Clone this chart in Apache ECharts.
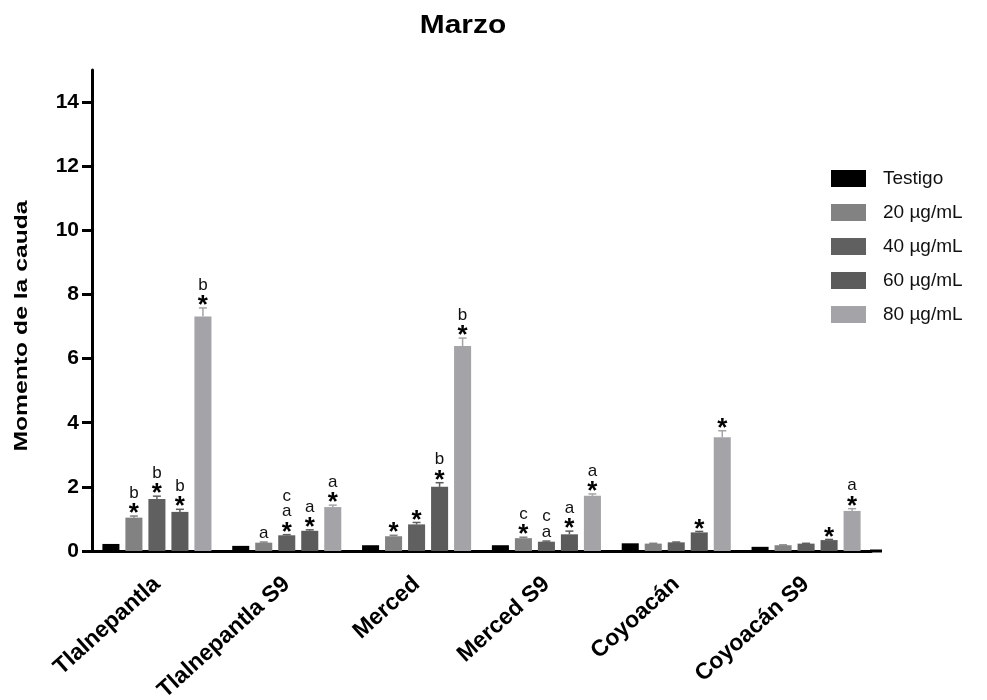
<!DOCTYPE html>
<html>
<head>
<meta charset="utf-8">
<script src="https://cdn.jsdelivr.net/npm/echarts@6/dist/echarts.min.js"></script>
<style>
  html, body { margin: 0; padding: 0; background: #fff; }
  #chart { width: 987px; height: 700px; }
</style>
</head>
<body>
<div id="chart"></div>
<script>
// Sites sampled in March
const categories = ['Tlalnepantla', 'Tlalnepantla S9', 'Merced', 'Merced S9', 'Coyoacán', 'Coyoacán S9'];
const seriesNames = ['Testigo', '20 µg/mL', '40 µg/mL', '60 µg/mL', '80 µg/mL'];

// Tail moment means per dose
const testigo = [0.22, 0.16, 0.18, 0.18, 0.24, 0.13];
const dose20  = [1.04, 0.26, 0.46, 0.40, 0.23, 0.18];
const dose40  = [1.62, 0.49, 0.83, 0.29, 0.27, 0.23];
const dose60  = [1.22, 0.63, 2.00, 0.52, 0.58, 0.34];
const dose80  = [7.31, 1.37, 6.39, 1.72, 3.55, 1.25];

// Standard errors
const errTestigo = [0, 0, 0, 0, 0, 0];
const err20 = [0.05, 0.02, 0.03, 0.03, 0.01, 0.01];
const err40 = [0.09, 0.02, 0.06, 0.02, 0.01, 0.01];
const err60 = [0.08, 0.03, 0.13, 0.10, 0.03, 0.02];
const err80 = [0.27, 0.06, 0.25, 0.06, 0.20, 0.07];

// Significance marks ("\n" separates stacked lines, last line sits lowest)
const markTestigo = ['', '', '', '', '', ''];
const mark20 = ['b\n*', 'a', '*', 'c\n*', '', ''];
const mark40 = ['b\n*', 'c\na\n*', '*', 'c\na', '', ''];
const mark60 = ['b\n*', 'a\n*', 'b\n*', 'a\n*', '*', '*'];
const mark80 = ['b\n*', 'a\n*', 'b\n*', 'a\n*', '*', 'a\n*'];

const yTicks = [0, 2, 4, 6, 8, 10, 12, 14];

const values = [testigo, dose20, dose40, dose60, dose80];
const errors = [errTestigo, err20, err40, err60, err80];
const marks = [markTestigo, mark20, mark40, mark60, mark80];
const colors = ['#000000', '#828282', '#606060', '#5b5b5b', '#a4a4a8'];

const FONT = '"Liberation Sans", Arial, sans-serif';
const CAT_GAP = 0.16;
const BAR_GAP = 0.35;
const N = seriesNames.length;

const chart = echarts.init(document.getElementById('chart'), null, { renderer: 'canvas' });

// Error bar with cap, plus the stacked significance marks above it
function errorRenderer(si) {
  return function (params, api) {
    const ci = api.value(0);
    const v = api.value(1);
    const e = api.value(2);
    const band = api.size([1, 0])[0];
    const barW = band * (1 - CAT_GAP) / (N + (N - 1) * BAR_GAP);
    const off = (si - (N - 1) / 2) * barW * (1 + BAR_GAP);
    const base = api.coord([ci, v]);
    const topP = api.coord([ci, v + e]);
    const x = base[0] + off;
    const children = [];
    if (e > 0) {
      children.push({
        type: 'line',
        shape: { x1: x, y1: base[1], x2: x, y2: topP[1] },
        style: { stroke: colors[si], lineWidth: 1.5 }
      });
      children.push({
        type: 'line',
        shape: { x1: x - 4, y1: topP[1], x2: x + 4, y2: topP[1] },
        style: { stroke: colors[si], lineWidth: 1.5 }
      });
    }
    const txt = marks[si][params.dataIndex];
    if (txt) {
      const lines = txt.split('\n').reverse();
      let cursor = topP[1] - 1;
      lines.forEach(function (ln) {
        if (ln === '*') {
          const c = cursor - 7;
          children.push({
            type: 'text',
            style: {
              text: '*', x: x, y: c + 6, align: 'center', verticalAlign: 'middle',
              fontSize: 26, fontWeight: 'bold', fontFamily: FONT, fill: '#000'
            }
          });
          cursor = c - 7;
        } else {
          const c = cursor - 8;
          children.push({
            type: 'text',
            style: {
              text: ln, x: x, y: c, align: 'center', verticalAlign: 'middle',
              fontSize: 17, fontFamily: FONT, fill: '#111'
            }
          });
          cursor = c - 7.5;
        }
      });
    }
    return { type: 'group', children: children };
  };
}

const series = [];
values.forEach(function (vals, si) {
  series.push({
    name: seriesNames[si],
    type: 'bar',
    data: vals,
    barGap: (BAR_GAP * 100) + '%',
    barCategoryGap: (CAT_GAP * 100) + '%',
    itemStyle: { color: colors[si] },
    z: 2
  });
});
values.forEach(function (vals, si) {
  series.push({
    name: seriesNames[si] + ' error',
    type: 'custom',
    renderItem: errorRenderer(si),
    data: vals.map(function (v, ci) { return [ci, v, errors[si][ci]]; }),
    encode: { x: 0, y: 1 },
    z: 3,
    silent: true
  });
});

chart.setOption({
  animation: false,
  backgroundColor: '#ffffff',
  legend: {
    data: seriesNames,
    orient: 'vertical',
    left: 826,
    top: 164,
    itemWidth: 35,
    itemHeight: 17,
    itemGap: 15,
    icon: 'rect',
    textStyle: { fontFamily: FONT, fontSize: 19, color: '#111', padding: [0, 0, 0, 12] }
  },
  grid: { left: 92, right: 116, top: 70, bottom: 149, containLabel: false, outerBoundsMode: 'none' },
  xAxis: {
    type: 'category',
    data: categories,
    axisLine: { lineStyle: { color: '#000', width: 3 } },
    axisTick: { alignWithLabel: true, length: 11, lineStyle: { color: '#000', width: 3 } },
    axisLabel: {
      rotate: 42, margin: 30, interval: 0,
      fontFamily: FONT, fontSize: 23, fontWeight: 'bold', color: '#000'
    }
  },
  yAxis: {
    type: 'value',
    min: 0, max: 15, interval: 2,
    splitLine: { show: false },
    axisLine: { show: true, lineStyle: { color: '#000', width: 3 } },
    axisTick: { show: true, length: 10, customValues: yTicks, lineStyle: { color: '#000', width: 3 } },
    axisLabel: {
      customValues: yTicks, margin: 13,
      fontFamily: FONT, fontSize: 21, fontWeight: 'bold', color: '#000'
    }
  },
  graphic: [
    {
      type: 'text',
      x: 463, y: 26,
      scaleX: 1.15,
      style: {
        text: 'Marzo', align: 'center', verticalAlign: 'middle',
        fontFamily: FONT, fontSize: 26, fontWeight: 'bold', fill: '#000'
      }
    },
    {
      type: 'text',
      x: 22, y: 326,
      rotation: Math.PI / 2,
      scaleX: 1.3,
      style: {
        text: 'Momento de la cauda', align: 'center', verticalAlign: 'middle',
        fontFamily: FONT, fontSize: 19, fontWeight: 'bold', fill: '#000'
      }
    }
  ],
  series: series
});

// Run the baseline a little past the last category band
const axisEnd = chart.convertToPixel({ gridIndex: 0 }, [categories.length - 1, 0]);
const bandHalf = (axisEnd[0] - chart.convertToPixel({ gridIndex: 0 }, [0, 0])[0]) / (categories.length - 1) / 2;
chart.setOption({
  graphic: [{
    id: 'baselineTail',
    type: 'line',
    shape: { x1: axisEnd[0] + bandHalf - 1, y1: axisEnd[1], x2: axisEnd[0] + bandHalf + 11, y2: axisEnd[1] },
    style: { stroke: '#000', lineWidth: 3 },
    z: 10
  }]
});
</script>
</body>
</html>
